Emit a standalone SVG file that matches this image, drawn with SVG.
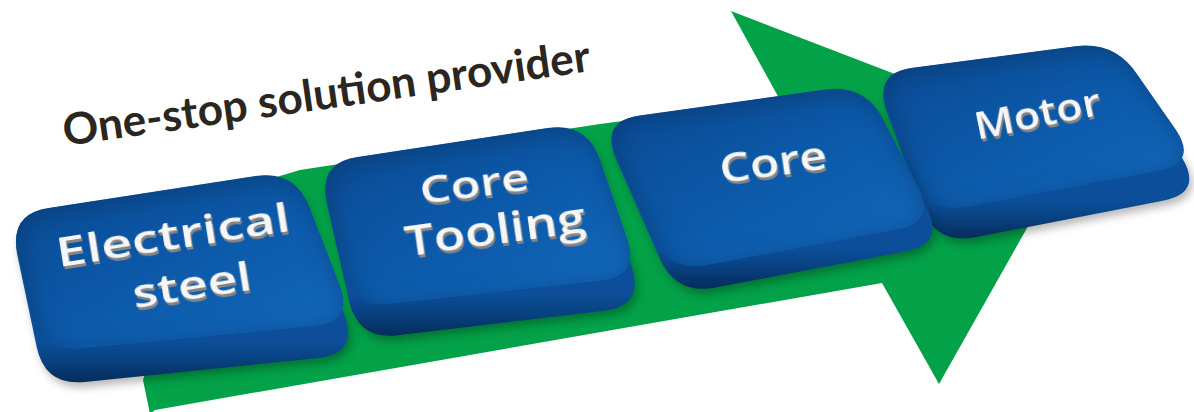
<svg xmlns="http://www.w3.org/2000/svg" width="1194" height="412" viewBox="0 0 1194 412">
<defs>
<style>
.title{font-family:Lato,"Open Sans",sans-serif;font-weight:700;font-size:44px;fill:#2b2620}
.lbl{font-family:"Open Sans","DejaVu Sans",sans-serif;font-weight:600;fill:#f6f6f6;text-anchor:middle}
.body{fill:url(#side)}
.top{fill:url(#tf)}
.arrow{fill:#03a148}
</style>
<linearGradient id="tf" x1="0" y1="0" x2="1" y2="1">
<stop offset="0" stop-color="#0a4a92"/>
<stop offset="0.5" stop-color="#0c59a9"/>
<stop offset="1" stop-color="#1369bc"/>
</linearGradient>
<linearGradient id="side" x1="0" y1="0" x2="0" y2="1">
<stop offset="0" stop-color="#0c4e99"/>
<stop offset="0.8" stop-color="#0c4e99"/>
<stop offset="0.9" stop-color="#08407e"/>
<stop offset="1" stop-color="#052c5c"/>
</linearGradient>
<filter id="drop" x="-10%" y="-10%" width="125%" height="130%" color-interpolation-filters="sRGB">
<feDropShadow dx="3" dy="5" stdDeviation="4" flood-color="#000" flood-opacity="0.28"/>
</filter>
<filter id="bevel" x="-10%" y="-10%" width="120%" height="120%" color-interpolation-filters="sRGB">
<feGaussianBlur in="SourceAlpha" stdDeviation="12" result="b"/>
<feOffset in="b" dx="5" dy="6" result="bo"/>
<feComposite in="SourceAlpha" in2="bo" operator="arithmetic" k2="1" k3="-1" result="ring"/>
<feFlood flood-color="#083a74" flood-opacity="0.7"/>
<feComposite in2="ring" operator="in" result="shade"/>
<feMerge><feMergeNode in="SourceGraphic"/><feMergeNode in="shade"/></feMerge>
</filter>
<filter id="ext" x="-10%" y="-30%" width="120%" height="160%" color-interpolation-filters="sRGB">
<feOffset in="SourceAlpha" dx="1" dy="2.5" result="o"/>
<feFlood flood-color="#858585"/>
<feComposite in2="o" operator="in" result="s"/>
<feMerge><feMergeNode in="s"/><feMergeNode in="SourceGraphic"/></feMerge>
</filter>
</defs>

<g id="connectors">
<polygon class="arrow" points="150,414 143,380 200,200 300,170 600,124 780,100 731,11 1075,143 939,384 882,283 155,410"/>
</g>

<text id="title" class="title" x="65" y="146" transform="rotate(-8.1 65 146)" textLength="532" lengthAdjust="spacingAndGlyphs">One-stop solution provider</text>

<g id="node-motor">
<path class="body" filter="url(#drop)" d="M912.7,69.8 L1075.3,48.2 Q1115,43 1134.7,77.8 L1182.3,158.2 Q1203,193 1162.8,200.7 L975.2,237.3 Q936,245 922.1,207.5 L886.9,112.5 Q873,75 912.7,69.8 Z"/>
<path class="top" filter="url(#bevel)" d="M912.7,67.8 L1075.3,46.2 Q1115,41 1137.1,74.3 L1175.9,129.7 Q1198,163 1158.7,170.5 L967.3,206.5 Q928,214 913.5,176.7 L887.5,110.3 Q873,73 912.7,67.8 Z"/>
<text class="lbl" filter="url(#ext)" font-size="38" transform="translate(1040,127) rotate(-11.5)" textLength="128" lengthAdjust="spacingAndGlyphs">Motor</text>
</g>

<g id="node-core">
<path class="body" filter="url(#drop)" d="M639.6,117.5 L825.4,91.5 Q865,86 883.1,121.7 L926.9,208.3 Q945,244 905.7,251.5 L715.3,287.5 Q676,295 659.8,258.4 L616.2,159.6 Q600,123 639.6,117.5 Z"/>
<path class="top" filter="url(#bevel)" d="M639.6,115.5 L825.4,89.5 Q865,84 883.3,119.6 L917.7,186.4 Q936,222 896.7,229.3 L707.3,264.7 Q668,272 651.6,235.5 L616.4,157.5 Q600,121 639.6,115.5 Z"/>
<text class="lbl" filter="url(#ext)" font-size="40" transform="translate(775,176) rotate(-8)" textLength="108" lengthAdjust="spacingAndGlyphs">Core</text>
</g>

<g id="node-core-tooling">
<path class="body" filter="url(#drop)" d="M357.5,159 L547.5,130 Q587,124 599,162.2 L632,267.8 Q644,306 604.3,310.7 L397.7,335.3 Q358,340 349.1,301 L326.9,204 Q318,165 357.5,159 Z"/>
<path class="top" filter="url(#bevel)" d="M357.5,157 L547.5,128 Q587,122 600,159.8 L627,238.2 Q640,276 600.2,280.4 L390.8,303.6 Q351,308 342.1,269 L326.9,202 Q318,163 357.5,157 Z"/>
<text class="lbl" filter="url(#ext)" font-size="38" transform="translate(476,197) rotate(-7.6)" textLength="110" lengthAdjust="spacingAndGlyphs">Core</text>
<text class="lbl" filter="url(#ext)" font-size="42" transform="translate(497,244) rotate(-7.9)" textLength="182" lengthAdjust="spacingAndGlyphs">Tooling</text>
</g>

<g id="node-electrical-steel">
<path class="body" filter="url(#drop)" d="M48.5,209.9 L255.5,178.1 Q295,172 308.1,209.8 L344.9,316.2 Q358,354 318.2,358.1 L84.8,381.9 Q45,386 36.7,346.9 L17.3,255.1 Q9,216 48.5,209.9 Z"/>
<path class="top" filter="url(#bevel)" d="M48.5,207.9 L255.5,176.1 Q295,170 309.5,207.3 L339.5,284.7 Q354,322 314.2,325.8 L79.8,348.2 Q40,352 31.2,313 L17.8,253 Q9,214 48.5,207.9 Z"/>
<text class="lbl" filter="url(#ext)" font-size="40" transform="translate(175,249) rotate(-8.9)" textLength="236" lengthAdjust="spacingAndGlyphs">Electrical</text>
<text class="lbl" filter="url(#ext)" font-size="40" transform="translate(194,299) rotate(-9)" textLength="120" lengthAdjust="spacingAndGlyphs">steel</text>
</g>
</svg>
